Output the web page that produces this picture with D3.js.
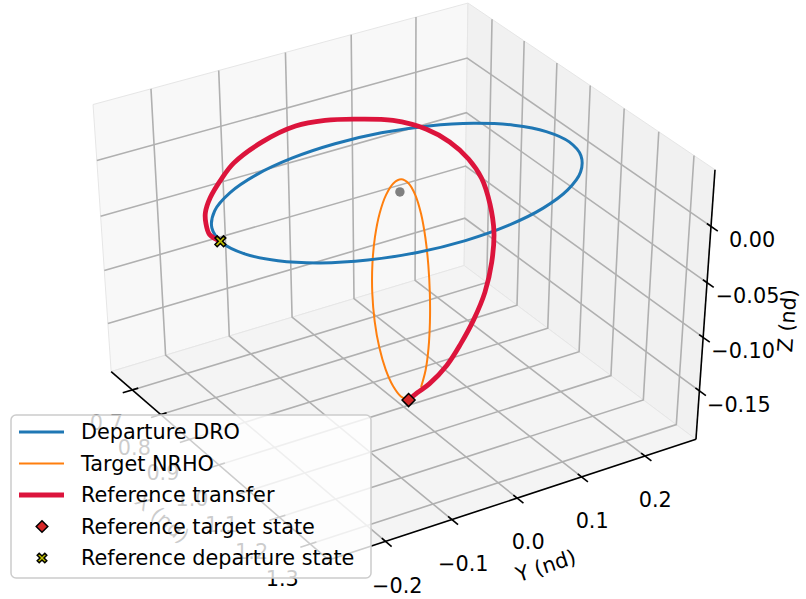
<!DOCTYPE html>
<html><head><meta charset="utf-8">
<script src="https://cdn.jsdelivr.net/npm/d3@7"></script>
<style>
body{margin:0;background:#fff}
text{font-family:"DejaVu Sans",sans-serif;fill:#000}
</style></head>
<body><svg id="chart" width="806" height="599"></svg>
<script>
// ---------------- data ----------------
const droX = [0.985,1.0375,1.0865,1.1285,1.1608,1.1811,1.188,1.1811,1.1608,1.1285,1.0865,1.0375,0.985,0.9325,0.8835,0.8415,0.8092,0.7889,0.782,0.7889,0.8092,0.8415,0.8835,0.9325];
const droY = [-0.26,-0.2511,-0.2252,-0.1838,-0.13,-0.0673,0,0.0673,0.13,0.1838,0.2252,0.2511,0.26,0.2511,0.2252,0.1838,0.13,0.0673,0,-0.0673,-0.13,-0.1838,-0.2252,-0.2511];
const droZ = [0,0,0,0,0,0,0,0,0,0,0,0,0,0,0,0,0,0,0,0,0,0,0,0];

const nrhoX = [1.016,1.0086,1.0009,0.9934,0.9866,0.981,0.977,0.9748,0.9746,0.9764,0.9801,0.9854,0.992,0.9994,1.0071,1.0146,1.0214,1.027,1.031,1.0332,1.0334,1.0316,1.0279];
const nrhoY = [0,-0.0084,-0.017,-0.0249,-0.0313,-0.0355,-0.037,-0.0355,-0.0313,-0.0249,-0.017,-0.0084,0,0.0076,0.014,0.0189,0.0223,0.0243,0.025,0.0243,0.0223,0.0189,0.014];
const nrhoZ = [-0.186,-0.1826,-0.1727,-0.157,-0.1365,-0.1126,-0.087,-0.0614,-0.0375,-0.017,-0.0013,0.0086,0.012,0.0086,-0.0013,-0.017,-0.0375,-0.0614,-0.087,-0.1126,-0.1365,-0.157,-0.1727];

const transferX = [0.98,0.9607,0.934,0.9095,0.8746,0.8263,0.7812,0.7258,0.6905,0.6988,0.7316,0.7886,0.8711,0.9555,1.0515,1.1445,1.2355,1.3125,1.3366,1.3344,1.3064,1.2549,1.1961,1.1117,1.0568,1.016];
const transferY = [-0.26,-0.2668,-0.26,-0.2497,-0.2269,-0.1887,-0.1506,-0.0836,-0.0173,0.0237,0.0529,0.0853,0.0966,0.0904,0.0713,0.0446,0.0113,-0.0212,-0.0358,-0.0437,-0.0452,-0.0384,-0.0297,-0.0145,-0.0061,0];
const transferZ = [0,0.003,0.006,0.008,0.01,0.01,0.008,0.004,0,0,0.003,0.008,0.015,0.022,0.03,0.037,0.04,0.038,0.02,-0.005,-0.035,-0.07,-0.105,-0.145,-0.168,-0.186];

const moonPos = [0.98785, 0, 0];
const targetState = [1.016, 0, -0.186];
const departureState = [0.98, -0.26, 0];

const xTicks = [0.7,0.8,0.9,1.0,1.1,1.2,1.3];
const xTickLabels = ["0.7","0.8","0.9","1.0","1.1","1.2","1.3"];
const yTicks = [-0.2,-0.1,0.0,0.1,0.2];
const yTickLabels = ["\u22120.2","\u22120.1","0.0","0.1","0.2"];
const zTicks = [-0.15,-0.10,-0.05,0.00];
const zTickLabels = ["\u22120.15","\u22120.10","\u22120.05","0.00"];

const legendLabels = ["Departure DRO","Target NRHO","Reference transfer","Reference target state","Reference departure state"];

// ---------------- view / projection ----------------
const xBox = [0.624, 1.3587], yBox = [-0.2844, 0.2813], zBox = [-0.1964, 0.0491];
const elev = 38, azim = -32, dist = 10;
const X0 = 400, Y0 = 275, SX = 4374, SY = 3402;

const re = elev*Math.PI/180, ra = azim*Math.PI/180;
const se = Math.sin(re), ce = Math.cos(re), sa = Math.sin(ra), ca = Math.cos(ra);
const U = [-sa, ca, 0], Vv = [-se*ca, -se*sa, ce], N = [ca*ce, sa*ce, se];
const dot = (a,b) => a[0]*b[0]+a[1]*b[1]+a[2]*b[2];

const nx = d3.scaleLinear().domain(xBox).range([0,1]);
const ny = d3.scaleLinear().domain(yBox).range([0,1]);
const nz = d3.scaleLinear().domain(zBox).range([0,1]);
const sxScr = d3.scaleLinear().domain([0,1]).range([X0, X0+SX]);
const syScr = d3.scaleLinear().domain([0,1]).range([Y0, Y0-SY]);

function projN(a,b,c){
  const q=[a-0.5,b-0.5,c-0.5];
  const w = dist - dot(N,q);
  return [sxScr(dot(U,q)/w), syScr(dot(Vv,q)/w)];
}
function proj(x,y,z){ return projN(nx(x),ny(y),nz(z)); }

const svg = d3.select("#chart");
const lineStr = d3.line();
const smooth = d3.line().curve(d3.curveCatmullRom.alpha(0.5));
const smoothClosed = d3.line().curve(d3.curveCatmullRomClosed.alpha(0.5));

// ---------------- panes ----------------
const panes = [
  {pts:[[0,0,0],[0,1,0],[0,1,1],[0,0,1]], fill:"#f8f8f8"},
  {pts:[[0,1,0],[1,1,0],[1,1,1],[0,1,1]], fill:"#f1f1f1"},
  {pts:[[0,0,0],[1,0,0],[1,1,0],[0,1,0]], fill:"#f4f4f4"}
];
svg.append("g").selectAll("path").data(panes).join("path")
  .attr("d", d => lineStr(d.pts.map(p=>projN(...p)))+"Z")
  .attr("fill", d=>d.fill).attr("stroke", "#e6e6e6").attr("stroke-width",1);

// ---------------- grid ----------------
const gridG = svg.append("g").attr("fill","none").attr("stroke","#b0b0b0").attr("stroke-width",1.6);
xTicks.forEach(v=>{ const a=nx(v);
  gridG.append("path").attr("d", lineStr([[a,0,0],[a,1,0],[a,1,1]].map(p=>projN(...p)))); });
yTicks.forEach(v=>{ const b=ny(v);
  gridG.append("path").attr("d", lineStr([[1,b,0],[0,b,0],[0,b,1]].map(p=>projN(...p)))); });
zTicks.forEach(v=>{ const c=nz(v);
  gridG.append("path").attr("d", lineStr([[0,0,c],[0,1,c],[1,1,c]].map(p=>projN(...p)))); });

// ---------------- axes ----------------
const axG = svg.append("g").attr("fill","none").attr("stroke","#000").attr("stroke-width",1.6);
axG.append("path").attr("d", lineStr([projN(0,0,0),projN(1,0,0)]));
axG.append("path").attr("d", lineStr([projN(1,0,0),projN(1,1,0)]));
axG.append("path").attr("d", lineStr([projN(1,1,0),projN(1,1,1)]));
const tOut = 0.026, tIn = 0.016;
xTicks.forEach(v=>{ const a=nx(v); axG.append("path").attr("d", lineStr([projN(a,-tOut,0),projN(a,tIn,0)])); });
yTicks.forEach(v=>{ const b=ny(v); axG.append("path").attr("d", lineStr([projN(1+tOut,b,0),projN(1-tIn,b,0)])); });
zTicks.forEach(v=>{ const c=nz(v); axG.append("path").attr("d", lineStr([projN(1+tOut,1,c),projN(1-tIn,1,c)])); });

// tick labels
const fs = 20.8;
const tl = svg.append("g").attr("font-size",fs).attr("text-anchor","middle").attr("dominant-baseline","central");
xTicks.forEach((v,i)=>{ const p=projN(nx(v),-0.075,-0.1); tl.append("text").attr("x",p[0]).attr("y",p[1]).text(xTickLabels[i]); });
yTicks.forEach((v,i)=>{ const p=projN(1.05,ny(v),-0.135); tl.append("text").attr("x",p[0]).attr("y",p[1]).text(yTickLabels[i]); });
zTicks.forEach((v,i)=>{ const p=projN(1.1,1.04,nz(v)); tl.append("text").attr("x",p[0]).attr("y",p[1]).text(zTickLabels[i]); });

// axis labels
function axisLabel(pos, a, b, txt){
  const p = projN(...pos), A = projN(...a), B = projN(...b);
  let ang = Math.atan2(B[1]-A[1], B[0]-A[0])*180/Math.PI;
  if (ang > 90) ang -= 180; if (ang < -90) ang += 180;
  tl.append("text").attr("transform",`translate(${p[0]},${p[1]}) rotate(${ang})`).text(txt);
}
axisLabel([0.5,-0.15,-0.15],[0,0,0],[1,0,0],"X (nd)");
axisLabel([1.1,0.52,-0.2],[1,0,0],[1,1,0],"Y (nd)");
axisLabel([1.212,1.07,0.57],[1,1,0],[1,1,1],"Z (nd)");

// ---------------- data ----------------
const dataG = svg.append("g").attr("fill","none").attr("stroke-linejoin","round").attr("stroke-linecap","round");
const moonP = proj(...moonPos);
svg.append("circle").attr("cx",moonP[0]).attr("cy",moonP[1]).attr("r",4.7).attr("fill","#808080");

const nrhoPts = nrhoX.map((x,i)=>proj(x,nrhoY[i],nrhoZ[i]));
dataG.append("path").attr("d", smooth(nrhoPts)).attr("stroke","#ff7f0e").attr("stroke-width",2);
const droPts = droX.map((x,i)=>proj(x,droY[i],droZ[i]));
dataG.append("path").attr("d", smoothClosed(droPts)).attr("stroke","#1f77b4").attr("stroke-width",3);
const trPts = transferX.map((x,i)=>proj(x,transferY[i],transferZ[i]));
dataG.append("path").attr("d", smooth(trPts)).attr("stroke","#dc143c").attr("stroke-width",4.8);

// markers
const diamond = r => `M0,${-r}L${r},0L0,${r}L${-r},0Z`;
function xMark(s,a){ return `M0,${-a}L${s-a},${-s}L${s},${-s+a}L${a},0L${s},${s-a}L${s-a},${s}L0,${a}L${-s+a},${s}L${-s},${s-a}L${-a},0L${-s},${-s+a}L${-s+a},${-s}Z`; }
const tp = proj(...targetState), dp = proj(...departureState);
svg.append("path").attr("d", diamond(6.5)).attr("transform",`translate(${tp[0]},${tp[1]})`)
  .attr("fill","#d62728").attr("stroke","#000").attr("stroke-width",1.5);
svg.append("path").attr("d", xMark(5.4,2.2)).attr("transform",`translate(${dp[0]},${dp[1]})`)
  .attr("fill","#bfbf00").attr("stroke","#000").attr("stroke-width",1.5);

// ---------------- legend ----------------
const lg = svg.append("g");
lg.append("rect").attr("x",11).attr("y",415).attr("width",360).attr("height",163).attr("rx",5)
  .attr("fill","#fff").attr("fill-opacity",0.8).attr("stroke","#cccccc").attr("stroke-width",1.5);
const rowY = d3.scaleLinear().domain([0,4]).range([432,558]);
const lineStyles = [{c:"#1f77b4",w:3},{c:"#ff7f0e",w:2},{c:"#dc143c",w:5}];
lineStyles.forEach((s,i)=>{
  lg.append("line").attr("x1",19).attr("x2",64).attr("y1",rowY(i)).attr("y2",rowY(i))
    .attr("stroke",s.c).attr("stroke-width",s.w);
});
lg.append("path").attr("d",diamond(5.8)).attr("transform",`translate(42,${rowY(3)})`)
  .attr("fill","#d62728").attr("stroke","#000").attr("stroke-width",1.5);
lg.append("path").attr("d",xMark(4.8,2))
  .attr("transform",`translate(42,${rowY(4)})`)
  .attr("fill","#bfbf00").attr("stroke","#000").attr("stroke-width",1.5);
legendLabels.forEach((t,i)=>{
  lg.append("text").attr("x",81).attr("y",rowY(i)).attr("font-size",fs).attr("dominant-baseline","central").text(t);
});
</script>
</body></html>
